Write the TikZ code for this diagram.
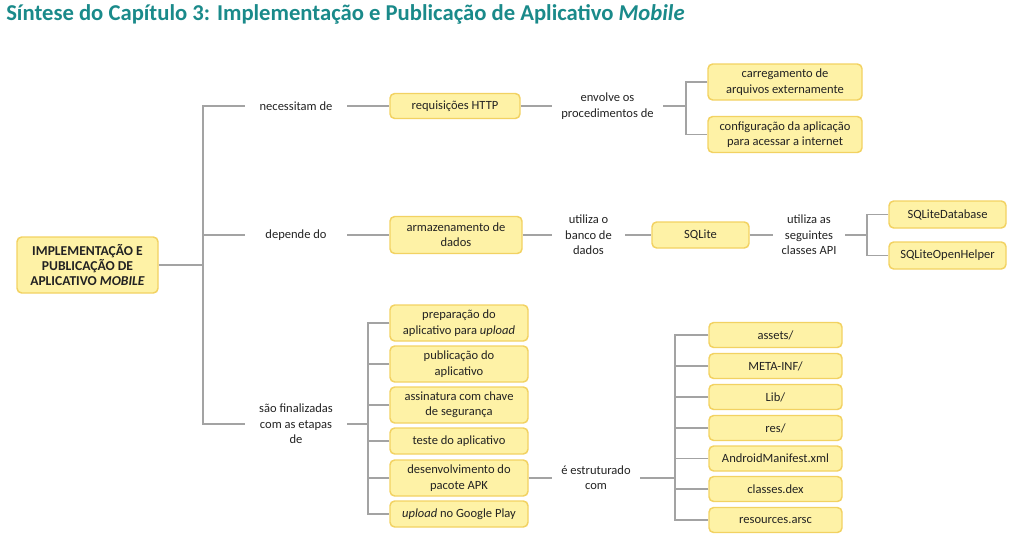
\documentclass[tikz,border=0pt]{standalone}
\usepackage{fontspec}
\setmainfont{Carlito}
\definecolor{boxfill}{HTML}{FEF2A6}
\definecolor{boxdraw}{HTML}{F2D262}
\definecolor{linec}{HTML}{A3A3A3}
\definecolor{titlec}{HTML}{1A8A8A}
\definecolor{txt}{HTML}{222222}
\tikzset{
  box/.style={draw=boxdraw, fill=boxfill, line width=1.1pt, rounded corners=3.5pt,
    align=center, inner sep=0pt, text=txt, font=\fontsize{9.4}{11.5}\selectfont},
  lab/.style={align=center, inner sep=0pt, text=txt, font=\fontsize{9.4}{11.5}\selectfont},
  conn/.style={draw=linec, line width=0.9pt},
}
\begin{document}
\begin{tikzpicture}[x=0.75pt,y=-0.75pt]
\useasboundingbox (0,0) rectangle (1021,539);
% title
\node[anchor=base west, inner sep=0pt, text=titlec, font=\fontsize{17}{20}\bfseries\selectfont] (title) at (6,20)
  {Síntese do Capítulo 3: Implementação e Publicação de Aplicativo \textit{Mobile}};
% main
\node[box, minimum width=105.75pt, minimum height=42pt, font=\fontsize{10.2}{11.3}\bfseries\selectfont] (main) at (87.5,265)
  {IMPLEMENTAÇÃO E\\PUBLICAÇÃO DE\\APLICATIVO \textit{MOBILE}};
\coordinate (t) at (203,265);
% row 1
\node[lab, minimum width=76.5pt] (l1) at (296,106) {necessitam de};
\node[box, minimum width=97.5pt, minimum height=18.75pt] (http) at (455,106) {requisições HTTP};
\node[lab, minimum width=83pt] (l2) at (607.5,106) {envolve os\\procedimentos de};
\coordinate (f1) at (686,106);
\node[box, minimum width=115.5pt, minimum height=27pt] (carr) at (785,82) {carregamento de\\arquivos externamente};
\node[box, minimum width=115.5pt, minimum height=27pt] (conf) at (785,134.5) {configuração da aplicação\\para acessar a internet};
% row 2
\node[lab, minimum width=76.5pt] (l3) at (296,235) {depende do};
\node[box, minimum width=99pt, minimum height=27.75pt] (arm) at (456,235) {armazenamento de\\dados};
\node[lab, minimum width=54.75pt] (l4) at (588.5,235) {utiliza o\\banco de\\dados};
\node[box, minimum width=72.75pt, minimum height=19.5pt] (sql) at (700.5,235) {SQLite};
\node[lab, minimum width=54pt] (l5) at (809,235) {utiliza as\\seguintes\\classes API};
\coordinate (f2) at (867,235);
\node[box, minimum width=87.75pt, minimum height=20.25pt] (sdb) at (947.5,214.5) {SQLiteDatabase};
\node[box, minimum width=87.75pt, minimum height=20.25pt] (soh) at (947.5,255.5) {SQLiteOpenHelper};
% row 3
\node[lab, minimum width=76.5pt] (l6) at (296,424) {são finalizadas\\com as etapas\\de};
\coordinate (f3) at (368,424);
\node[box, minimum width=103.5pt, minimum height=27pt] (s1) at (459,323) {preparação do\\aplicativo para \textit{upload}};
\node[box, minimum width=103.5pt, minimum height=27pt] (s2) at (459,364) {publicação do\\aplicativo};
\node[box, minimum width=103.5pt, minimum height=27pt] (s3) at (459,405) {assinatura com chave\\de segurança};
\node[box, minimum width=103.5pt, minimum height=19.5pt] (s4) at (459,441) {teste do aplicativo};
\node[box, minimum width=103.5pt, minimum height=27pt] (s5) at (459,478) {desenvolvimento do\\pacote APK};
\node[box, minimum width=103.5pt, minimum height=19.5pt] (s6) at (459,514) {\textit{upload} no Google Play};
\node[lab, minimum width=66pt] (l7) at (596,478) {é estruturado\\com};
\coordinate (f4) at (675,478);
\node[box, minimum width=99.75pt, minimum height=18.75pt] (a1) at (775.5,335) {assets/};
\node[box, minimum width=99.75pt, minimum height=18.75pt] (a2) at (775.5,366) {META-INF/};
\node[box, minimum width=99.75pt, minimum height=18.75pt] (a3) at (775.5,397) {Lib/};
\node[box, minimum width=99.75pt, minimum height=18.75pt] (a4) at (775.5,428) {res/};
\node[box, minimum width=99.75pt, minimum height=18.75pt] (a5) at (775.5,458.5) {AndroidManifest.xml};
\node[box, minimum width=99.75pt, minimum height=18.75pt] (a6) at (775.5,489) {classes.dex};
\node[box, minimum width=99.75pt, minimum height=18.75pt] (a7) at (775.5,520) {resources.arsc};
% connectors
\draw[conn] (main.east) -- (t);
\draw[conn] (l1.west) -| (t) |- (l6.west);
\draw[conn] (l3.west) -- (l3.west -| t);
\draw[conn] (l1.east) -- (http.west);
\draw[conn] (http.east) -- (l2.west);
\draw[conn] (l2.east) -- (f1);
\draw[conn] (carr.west) -| (f1) |- (conf.west);
\draw[conn] (l3.east) -- (arm.west);
\draw[conn] (arm.east) -- (l4.west);
\draw[conn] (l4.east) -- (sql.west);
\draw[conn] (sql.east) -- (l5.west);
\draw[conn] (l5.east) -- (f2);
\draw[conn] (sdb.west) -| (f2) |- (soh.west);
\draw[conn] (l6.east) -- (f3);
\draw[conn] (s1.west) -| (f3) |- (s6.west);
\foreach \n in {s2,s3,s4,s5} \draw[conn] (\n.west) -- (\n.west -| f3);
\draw[conn] (s5.east) -- (l7.west);
\draw[conn] (l7.east) -- (f4);
\draw[conn] (a1.west) -| (f4) |- (a7.west);
\foreach \n in {a2,a3,a4,a5,a6} \draw[conn] (\n.west) -- (\n.west -| f4);
\end{tikzpicture}
\end{document}
